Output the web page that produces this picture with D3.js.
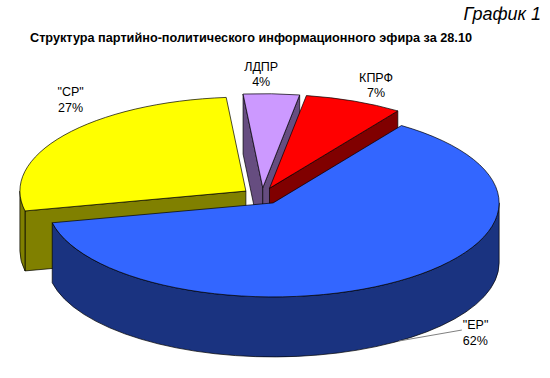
<!DOCTYPE html>
<html>
<head>
<meta charset="utf-8">
<script src="https://cdn.jsdelivr.net/npm/d3@7"></script>
<style>
  body { margin: 0; background: #fff; }
  text { font-family: "Liberation Sans", Arial, sans-serif; }
</style>
</head>
<body>
<div class="chart"></div>
<script>
// data, in the order Excel draws it (clockwise from top)
const parties = ["ЛДПР", "КПРФ", "\"ЕР\"", "\"СР\""];
const shares = [4, 7, 62, 27];
const colors = ["#CC99FF", "#FF0000", "#3366FF", "#FFFF00"];

const w = 550;
const h = 378;

// pie geometry (ellipse of the tilted disk)
const cx = 262, cy = 196;
const rx = 226, ry = 94;
const depth = 60;
const explode = 20;
const k = ry / rx;

// label nudges from the default spot (1.2 * radius on the mid angle)
const labelNudge = [[-12, -4], [5, -2], [64, -12], [43, -28]];

const svg = d3.select(".chart")
    .append("svg")
    .attr("width", w)
    .attr("height", h);

svg.append("text")
    .text("График 1")
    .attr("x", 541)
    .attr("y", 20)
    .attr("text-anchor", "end")
    .attr("font-style", "italic")
    .attr("font-size", "18px");

svg.append("text")
    .text("Структура партийно-политического информационного эфира за 28.10")
    .attr("x", 251)
    .attr("y", 42)
    .attr("text-anchor", "middle")
    .attr("font-weight", "bold")
    .attr("font-size", "12.7px");

const pie = d3.pie()
    .sort(null)
    .value(d => d.value)
    .startAngle(-5 * Math.PI / 180)
    .endAngle(355 * Math.PI / 180);

const color = d3.scaleOrdinal().domain(parties).range(colors);

const data = parties.map((p, i) => ({ name: p, value: shares[i], nudge: labelNudge[i] }));
const arcs = pie(data);

// point on the disk: angle clockwise from 12 o'clock, radius in px, drop = depth offset
const pt = (o, a, r, drop) => [o[0] + r * Math.sin(a), o[1] - r * Math.cos(a) * k + (drop || 0)];

arcs.forEach(d => {
    d.mid = (d.startAngle + d.endAngle) / 2;
    d.o = pt([cx, cy], d.mid, explode);
    d.front = -Math.cos(d.mid);
});

const darker = c => {
    const r = d3.rgb(c);
    return d3.rgb(r.r * 0.5, r.g * 0.5, r.b * 0.5).formatHex();
};

const topPath = d => {
    const a = pt(d.o, d.startAngle, rx), b = pt(d.o, d.endAngle, rx);
    const large = d.endAngle - d.startAngle > Math.PI ? 1 : 0;
    return `M${d.o}L${a}A${rx},${ry} 0 ${large} 1 ${b}Z`;
};

const outerWall = d => {
    const lo = Math.max(d.startAngle, Math.PI / 2);
    const hi = Math.min(d.endAngle, 3 * Math.PI / 2);
    if (lo >= hi) return null;
    const large = hi - lo > Math.PI ? 1 : 0;
    return `M${pt(d.o, lo, rx)}A${rx},${ry} 0 ${large} 1 ${pt(d.o, hi, rx)}` +
        `L${pt(d.o, hi, rx, depth)}A${rx},${ry} 0 ${large} 0 ${pt(d.o, lo, rx, depth)}Z`;
};

const radialWall = (d, a) =>
    `M${d.o}L${pt(d.o, a, rx)}L${pt(d.o, a, rx, depth)}L${pt(d.o, 0, 0, depth)}Z`;

// back slices first
const order = arcs.slice().sort((a, b) => a.front - b.front);

const slices = svg.selectAll(".slice")
    .data(order)
    .enter()
    .append("g")
    .attr("class", "slice");

slices.each(function (d) {
    const g = d3.select(this);
    const side = darker(color(d.data.name));
    const walls = [];
    if (Math.sin(d.startAngle) < 0) walls.push(radialWall(d, d.startAngle));
    if (Math.sin(d.endAngle) > 0) walls.push(radialWall(d, d.endAngle));
    const ow = outerWall(d);
    if (ow) walls.push(ow);
    walls.forEach(p => {
        g.append("path")
            .attr("d", p)
            .attr("fill", side)
            .attr("stroke", "#000")
            .attr("stroke-width", 0.7)
            .attr("stroke-linejoin", "round");
    });
    g.append("path")
        .attr("d", topPath(d))
        .attr("fill", color(d.data.name))
        .attr("stroke", "#000")
        .attr("stroke-width", 0.7)
        .attr("stroke-linejoin", "round");
});

// labels
arcs.forEach(d => {
    let anchor = "middle";
    let p = pt(d.o, d.mid, rx * 1.2);
    if (d.front > 0) {
        // front slice: label sits outside with a leader line to the lower rim
        const rim = pt(d.o, d.mid, rx, depth);
        p = [rim[0] + d.data.nudge[0], rim[1] + d.data.nudge[1]];
        svg.append("line")
            .attr("x1", p[0] - 1)
            .attr("y1", p[1] + 1)
            .attr("x2", rim[0])
            .attr("y2", rim[1])
            .attr("stroke", "#808080")
            .attr("stroke-width", 1);
        anchor = "start";
    } else {
        p = [p[0] + d.data.nudge[0], p[1] + d.data.nudge[1]];
    }
    const t = svg.append("text")
        .attr("text-anchor", anchor)
        .attr("font-size", "12.5px");
    t.append("tspan")
        .attr("x", p[0])
        .attr("y", p[1])
        .text(d.data.name);
    t.append("tspan")
        .attr("x", p[0])
        .attr("y", p[1] + 15.5)
        .text(d.data.value + "%");
});
</script>
</body>
</html>
